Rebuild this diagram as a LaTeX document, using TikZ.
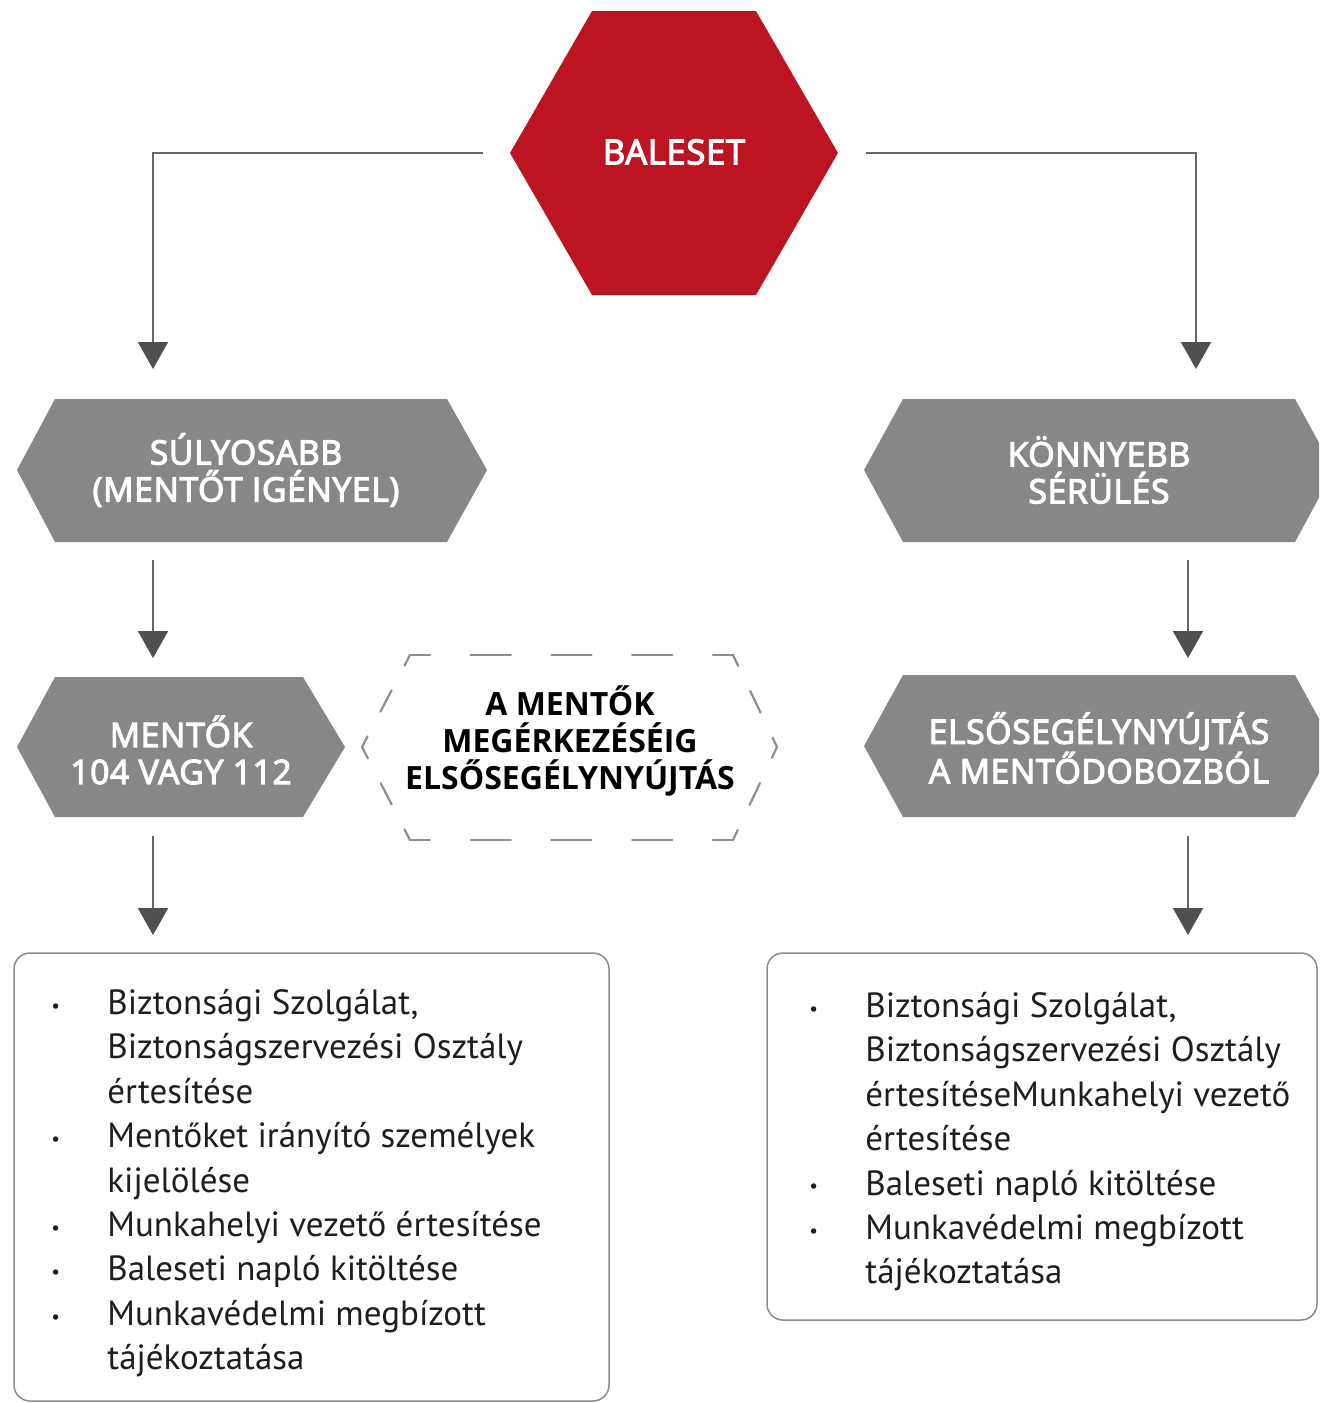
\documentclass[tikz,border=0pt]{standalone}
\usepackage{fontspec}
\setmainfont{PT Sans}
\newfontfamily\semib{Open Sans}[FakeBold=3.5,LetterSpace=2]
\newfontfamily\headb{Open Sans}
\usetikzlibrary{arrows.meta}
\definecolor{redhex}{HTML}{BC1521}
\definecolor{grayhex}{HTML}{878787}
\definecolor{conn}{HTML}{666666}
\definecolor{tip}{HTML}{505050}
\definecolor{dashc}{HTML}{8E8E8E}
\definecolor{boxc}{HTML}{8C8C8C}
\definecolor{txt}{HTML}{1E1E1E}
\tikzset{
  arr/.style={draw=conn, line width=1pt, -{Triangle[width=15pt,length=13.5pt,fill=tip,color=tip]}},
  hexlabel/.style={text=white, align=center, inner sep=0pt, font=\semib\fontsize{16.8}{18.5}\selectfont},
  redlabel/.style={text=white, align=center, inner sep=0pt, font=\semib\fontsize{17.3}{20}\selectfont},
  dashlabel/.style={text=black, align=center, inner sep=0pt, font=\headb\bfseries\fontsize{16}{18.6}\selectfont},
  dashside/.style={draw=dashc, line width=1.1pt, line cap=round},
  topside/.style={dashside, dash pattern=on 20pt off 20.37pt, dash phase=10pt},
  slantside/.style={dashside, dash pattern=on 12pt off 13.95pt, dash phase=6pt},
  listbox/.style={draw=boxc, line width=0.75pt, rounded corners=8pt},
  listtext/.style={anchor=north west, inner sep=0pt, text=txt, align=left, font=\fontsize{17.5}{22.2}\selectfont}
}
\newcommand{\bul}{\raisebox{0.12ex}{\scalebox{0.55}{•}}}
\begin{document}
\begin{tikzpicture}[x=0.5pt,y=-0.5pt]
\useasboundingbox (0,0) rectangle (1319,1403);
\clip (0,0) rectangle (1319,1403);
\fill[white] (0,0) rectangle (1319,1403);

% top red hexagon
\fill[redhex] (510,153) -- (592,11) -- (756,11) -- (838,153) -- (756,295) -- (592,295) -- cycle;
\node[redlabel] (bal) at (674,152) {BALESET};

% gray hexagons
\fill[grayhex] (17,470) -- (55,399) -- (447,399) -- (487,470) -- (447,542) -- (55,542) -- cycle;
\node[hexlabel] (sul) at (246,470) {SÚLYOSABB\\(MENTŐT IGÉNYEL)};

\fill[grayhex] (17,747) -- (55,677) -- (303,677) -- (345,747) -- (303,817) -- (55,817) -- cycle;
\node[hexlabel] (men) at (181,750) {MENTŐK\\104 VAGY 112};

\fill[grayhex] (864,470) -- (903,399) -- (1295,399) -- (1334,470) -- (1295,542) -- (903,542) -- cycle;
\node[hexlabel] (kon) at (1099,470) {KÖNNYEBB\\SÉRÜLÉS};

\fill[grayhex] (864,746) -- (903,675) -- (1295,675) -- (1334,746) -- (1295,817) -- (903,817) -- cycle;
\node[hexlabel] (els) at (1099,748) {ELSŐSEGÉLYNYÚJTÁS\\A MENTŐDOBOZBÓL};

% dashed hexagon
\coordinate (d1) at (362,747);
\coordinate (d2) at (410,655);
\coordinate (d3) at (733,655);
\coordinate (d4) at (777,747);
\coordinate (d5) at (733,840);
\coordinate (d6) at (410,840);
\draw[topside] (d2) -- (d3);
\draw[topside] (d6) -- (d5);
\draw[slantside] (d1) -- (d2);
\draw[slantside] (d3) -- (d4);
\draw[slantside] (d4) -- (d5);
\draw[slantside] (d6) -- (d1);
\node[dashlabel] (mer) at (570,741) {A MENTŐK\\MEGÉRKEZÉSÉIG\\ELSŐSEGÉLYNYÚJTÁS};

% connectors
\coordinate (bl) at (483,153);
\coordinate (br) at (866,153);
\coordinate (t1) at (153,369);
\coordinate (t2) at (1196,369);
\draw[arr] (bl) -| (t1);
\draw[arr] (br) -| (t2);

\coordinate (s1) at (153,560);
\coordinate (e1) at (153,658);
\draw[arr] (s1) -- (e1);
\coordinate (s2) at (1188,560);
\coordinate (e2) at (1188,658);
\draw[arr] (s2) -- (e2);
\coordinate (s3) at (153,836);
\coordinate (e3) at (153,935);
\draw[arr] (s3) -- (e3);
\coordinate (s4) at (1188,836);
\coordinate (e4) at (1188,935);
\draw[arr] (s4) -- (e4);

% list boxes
\draw[listbox] (14,953) rectangle (609,1401);
\draw[listbox] (767,953) rectangle (1317,1320);

\node[listtext] (lista) at (51,983) {%
\begin{tabular}{@{}p{28pt}@{}l@{}}
\bul & Biztonsági Szolgálat,\\
 & Biztonságszervezési Osztály\\
 & értesítése\\
\bul & Mentőket irányító személyek\\
 & kijelölése\\
\bul & Munkahelyi vezető értesítése\\
\bul & Baleseti napló kitöltése\\
\bul & Munkavédelmi megbízott\\
 & tájékoztatása
\end{tabular}};

\node[listtext] (listb) at (809,986) {%
\begin{tabular}{@{}p{28pt}@{}l@{}}
\bul & Biztonsági Szolgálat,\\
 & Biztonságszervezési Osztály\\
 & értesítéseMunkahelyi vezető\\
 & értesítése\\
\bul & Baleseti napló kitöltése\\
\bul & Munkavédelmi megbízott\\
 & tájékoztatása
\end{tabular}};
\end{tikzpicture}
\end{document}
